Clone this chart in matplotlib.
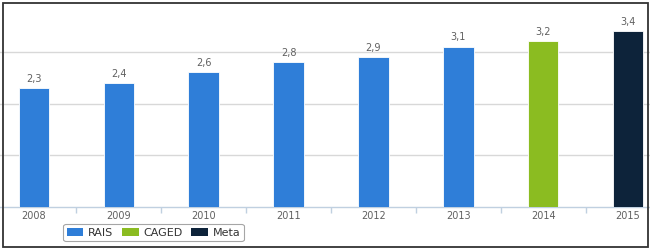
import matplotlib
matplotlib.use("Agg")
import matplotlib.pyplot as plt
from matplotlib.patches import Rectangle, Patch

# dados do gráfico
anos = ["2008", "2009", "2010", "2011", "2012", "2013", "2014", "2015"]
valores = [2.3, 2.4, 2.6, 2.8, 2.9, 3.1, 3.2, 3.4]
serie = ["RAIS", "RAIS", "RAIS", "RAIS", "RAIS", "RAIS", "CAGED", "Meta"]
series = ["RAIS", "CAGED", "Meta"]
cores = {"RAIS": "#2f7ed8", "CAGED": "#8bbc21", "Meta": "#0d233a"}

W, H = 650, 250
fig = plt.figure(figsize=(W / 100, H / 100), dpi=100)

# área do gráfico (um pouco além da figura, como no original recortado)
left_px, right_px = -8.4, 670.4
bottom_px, top_px = 207, 0
ax = fig.add_axes([left_px / W, 1 - bottom_px / H,
                   (right_px - left_px) / W, (bottom_px - top_px) / H])

x = list(range(len(anos)))
for s in series:
    xs = [i for i in x if serie[i] == s]
    vs = [valores[i] for i in x if serie[i] == s]
    ax.bar(xs, vs, width=0.36, color=cores[s], edgecolor="white",
           linewidth=0.6, zorder=3)

for i, v in zip(x, valores):
    ax.text(i, v + 0.08, ("%.1f" % v).replace(".", ","), ha="center",
            va="bottom", fontsize=7, color="#606060", zorder=4)

ax.set_xlim(-0.5, len(anos) - 0.5)
ax.set_ylim(0, 4)
ax.set_yticks([1, 2, 3])
ax.yaxis.grid(True, color="#d8d8d8", linewidth=1)
ax.set_axisbelow(True)
ax.tick_params(axis="y", left=False, labelleft=False)

ax.set_xticks(x)
ax.set_xticklabels(anos, fontsize=7, color="#606060")
ax.set_xticks([i + 0.5 for i in x[:-1]], minor=True)
ax.tick_params(axis="x", which="major", length=0, pad=3)
ax.tick_params(axis="x", which="minor", length=4, color="#c0d0e0", width=1)

for sp in ["top", "right", "left"]:
    ax.spines[sp].set_visible(False)
ax.spines["bottom"].set_color("#c0d0e0")
ax.spines["bottom"].set_linewidth(1)
ax.patch.set_alpha(0)

handles = [Patch(facecolor=cores[s], edgecolor="none", label=s) for s in series]
leg = fig.legend(handles=handles, loc="center", ncol=3,
                 bbox_to_anchor=(153.5 / W, 1 - 232.5 / H),
                 fontsize=8, frameon=True, fancybox=True,
                 handlelength=1.5, handleheight=0.7, handletextpad=0.4,
                 columnspacing=0.8, borderpad=0.3, labelcolor="#333333")
leg.get_frame().set_edgecolor("#909090")
leg.get_frame().set_linewidth(0.8)

# moldura externa
fig.patches.append(Rectangle((2.5 / W, 3 / H), 645.5 / W, 244.5 / H,
                             transform=fig.transFigure, fill=False,
                             edgecolor="#333333", linewidth=1.3))

fig.savefig("out.png", dpi=100)
